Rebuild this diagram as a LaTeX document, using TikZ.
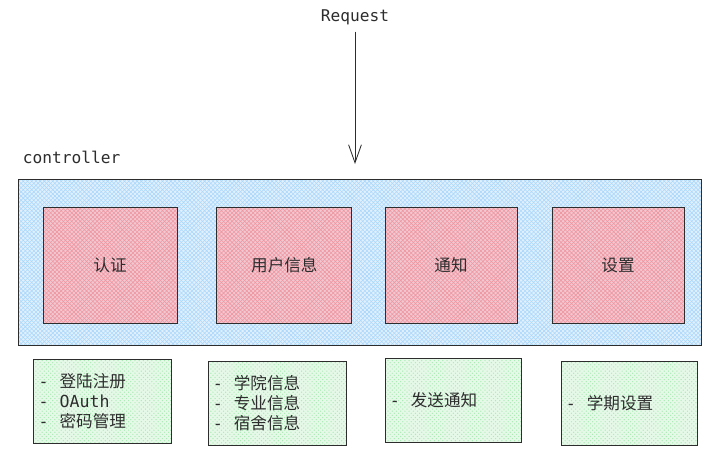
\documentclass[tikz,border=0pt]{standalone}
\usepackage{fontspec}
\setmainfont{Noto Sans CJK SC}
\setmonofont{DejaVu Sans Mono}
\usetikzlibrary{arrows.meta, patterns}

\definecolor{inkgray}{RGB}{45,45,45}
\definecolor{blueback}{RGB}{226,240,252}
\definecolor{bluehatch}{RGB}{170,216,252}
\definecolor{redback}{RGB}{240,200,210}
\definecolor{redhatch}{RGB}{240,150,160}
\definecolor{greenback}{RGB}{230,249,233}
\definecolor{greenhatch}{RGB}{170,236,180}

\tikzset{
	layerbox/.style={draw=inkgray, semithick, preaction={fill=blueback},
		preaction={pattern=crosshatch, pattern color=bluehatch}},
	modulebox/.style={draw=inkgray, semithick, preaction={fill=redback},
		preaction={pattern=crosshatch, pattern color=redhatch},
		minimum height=2.9cm, font=\fontsize{11.8}{14}\selectfont, text=inkgray},
	infobox/.style={draw=inkgray, semithick, preaction={fill=greenback},
		preaction={pattern=crosshatch dots, pattern color=greenhatch},
		minimum height=2.1cm, inner xsep=0.12cm, align=left,
		font=\fontsize{11.8}{14.2}\selectfont, text=inkgray},
	monotext/.style={font=\ttfamily\fontsize{11.5}{13}\selectfont, text=inkgray},
}

\begin{document}
\begin{tikzpicture}

	\useasboundingbox (0, 0) rectangle (18.1, -11.65);

	\node[monotext]                                  (request)    at (8.875, -0.425) {Request};
	\coordinate                                      (entry)      at (8.875, -4.1);
	\node[monotext, anchor=west]                     (ctrl_label) at (0.45, -3.925) {controller};

	\node[layerbox, minimum width=17.08cm, minimum height=4.13cm] (controller) at (8.99, -6.56) {};

	\node[modulebox, minimum width=3.35cm]  (auth)     at ( 2.75,  -6.625) {认证};
	\node[modulebox, minimum width=3.375cm] (userinfo) at ( 7.11,  -6.625) {用户信息};
	\node[modulebox, minimum width=3.3cm]   (notice)   at (11.275, -6.625) {通知};
	\node[modulebox, minimum width=3.3cm]   (settings) at (15.45,  -6.625) {设置};

	\node[infobox, text width=3.19cm] (auth_info)     at ( 2.56,  -10.025) {\texttt{-} \ 登陆注册\\\texttt{-} \ \texttt{OAuth}\\\texttt{-} \ 密码管理};
	\node[infobox, text width=3.21cm] (userinfo_info) at ( 6.925, -10.075) {\texttt{-} \ 学院信息\\\texttt{-} \ 专业信息\\\texttt{-} \ 宿舍信息};
	\node[infobox, text width=3.16cm] (notice_info)   at (11.325, -10.01)  {\texttt{-} \ 发送通知};
	\node[infobox, text width=3.16cm] (settings_info) at (15.725, -10.075) {\texttt{-} \ 学期设置};

	\draw[inkgray, semithick, -{Straight Barb[length=0.45cm, width=0.32cm]}] ([yshift=-0.05cm]request.south) -- (entry);
\end{tikzpicture}
\end{document}
